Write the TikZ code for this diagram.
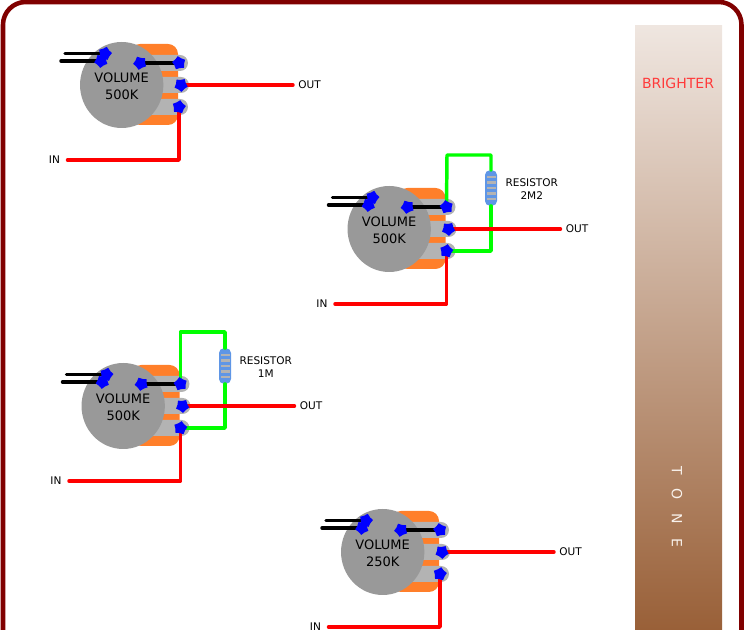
\documentclass[tikz,border=0pt]{standalone}
\usepackage{fontspec}
\setmainfont{DejaVu Sans}
\usetikzlibrary{shapes.geometric,positioning,calc}
\definecolor{framered}{HTML}{800000}
\definecolor{potorange}{HTML}{FF7F2A}
\definecolor{lugshade}{HTML}{B3B3B3}
\definecolor{potshade}{HTML}{999999}
\definecolor{resblue}{HTML}{5F96E6}
\definecolor{brightred}{HTML}{FF3B3B}
\definecolor{barlight}{HTML}{EFE6E0}
\definecolor{bardark}{HTML}{996038}
\tikzset{
  lug/.style={fill=lugshade,draw=none,rounded corners=6pt},
  pin/.style={star,star points=5,star point ratio=1.35,fill=blue,inner sep=0pt,minimum size=10.4pt},
  potknob/.style={ellipse,fill=potshade,inner sep=0pt,minimum width=62.5pt,minimum height=64.5pt,align=center},
  tag/.style={inner sep=3.75pt,font=\fontsize{7.9pt}{9.75pt}\selectfont,align=center},
  blackwire/.style={draw=black,line width=2.6pt,line cap=round},
  redwire/.style={draw=red,line width=2.6pt,line cap=round,line join=round},
  greenwire/.style={draw=green,line width=2.6pt,line cap=round,line join=round},
}
\newcommand{\potbody}[4]{%
\begin{scope}[shift={(#2,#3)}]
\fill[potorange,rounded corners=7.5pt] (130,44) rectangle (178,125);
\fill[lug] (125,55) rectangle (188,71);
\fill[lug] (125,77) rectangle (189,93);
\fill[lug] (125,99) rectangle (188,115);
\node[potknob] (#1) at (121.7,85) {};
\node[font=\fontsize{9.75pt}{12.5pt}\selectfont,align=center] (#1-text) at (121.7,86) {VOLUME\\#4};
\coordinate (#1-top) at (179,63);
\coordinate (#1-mid) at (181,85);
\coordinate (#1-low) at (179,107);
\coordinate (#1-front) at (140,63);
\coordinate (#1-a) at (105,53.5);
\coordinate (#1-b) at (101,61);
\coordinate (#1-afree) at (65,53.5);
\coordinate (#1-bfree) at (61,61);
\coordinate (#1-corner) at (179,160);
\node[tag,anchor=west] (#1-out) at (293,85) {OUT};
\node[tag,anchor=east,inner xsep=5.5pt] (#1-in) at (67.5,160) {IN};
\end{scope}}
\newcommand{\potwires}[1]{%
\draw[blackwire] (#1-afree) -- (#1-a);
\draw[blackwire] (#1-bfree) -- (#1-b);
\draw[blackwire] (#1-front) -- (#1-top);
\draw[redwire] (#1-mid) -- (#1-out.west);
\draw[redwire] (#1-in.east) -- (#1-corner) -- (#1-low);}
\newcommand{\potpins}[1]{%
\foreach \pinname/\pinrot in {top/10,mid/40,low/-10,front/25,a/-15,b/30}
  \node[pin,rotate=\pinrot] (#1-\pinname-pin) at (#1-\pinname) {};}
\newcommand{\resistorpart}[2]{%
\node[fill=resblue,rounded corners=3.5pt,inner sep=0pt,minimum width=9pt,minimum height=26.5pt] (#1) at #2 {};
\foreach \bandy in {-11,-5.5,0,5.5,11}
  \fill[lugshade] ($(#1)+(-4.5,\bandy-1.3)$) rectangle ($(#1)+(4.5,\bandy+1.3)$);}
\begin{document}
\begin{tikzpicture}[x=.75pt,y=-.75pt]
\clip (0,0) rectangle (744,630);
\draw[framered,line width=3.4pt,rounded corners=17pt] (3,700) -- (3,2) -- (741.5,2) -- (741.5,700);
\shade[top color=barlight,bottom color=bardark] (635,26) rectangle (722,630);
\node[text=brightred,font=\fontsize{10.5pt}{12pt}\selectfont] (brighter) at (678,83) {BRIGHTER};
\node[text=white!90!brown,rotate=-90,font=\fontsize{10.5pt}{12pt}\selectfont] (tone) at (677,506.5) {\spaceskip=10.5pt T O N E};
\potbody{volA}{0}{0}{500K}
\potbody{volB}{267.5}{144}{500K}
\potbody{volC}{1.5}{321}{500K}
\potbody{volD}{261}{467}{250K}
\resistorpart{resB}{(491,188)}
\resistorpart{resC}{(225,366)}
\coordinate (greenBa) at (447,155);
\coordinate (greenBb) at (491,155);
\coordinate (greenBc) at (491,251);
\coordinate (greenCa) at (180.5,332);
\coordinate (greenCb) at (225,332);
\coordinate (greenCc) at (225,428);
\draw[greenwire] (volB-top) -- (greenBa) -- (greenBb) -- (resB.north);
\draw[greenwire] (resB.south) -- (greenBc) -- (volB-low);
\draw[greenwire] (volC-top) -- (greenCa) -- (greenCb) -- (resC.north);
\draw[greenwire] (resC.south) -- (greenCc) -- (volC-low);
\potwires{volA}
\potwires{volB}
\potwires{volC}
\potwires{volD}
\potpins{volA}
\potpins{volB}
\potpins{volC}
\potpins{volD}
\node[tag,right=6pt of resB,yshift=-1.1pt,inner sep=0pt] (labB) {RESISTOR\\2M2};
\node[tag,right=6pt of resC,yshift=-.5pt,inner sep=0pt] (labC) {RESISTOR\\1M};
\end{tikzpicture}
\end{document}
